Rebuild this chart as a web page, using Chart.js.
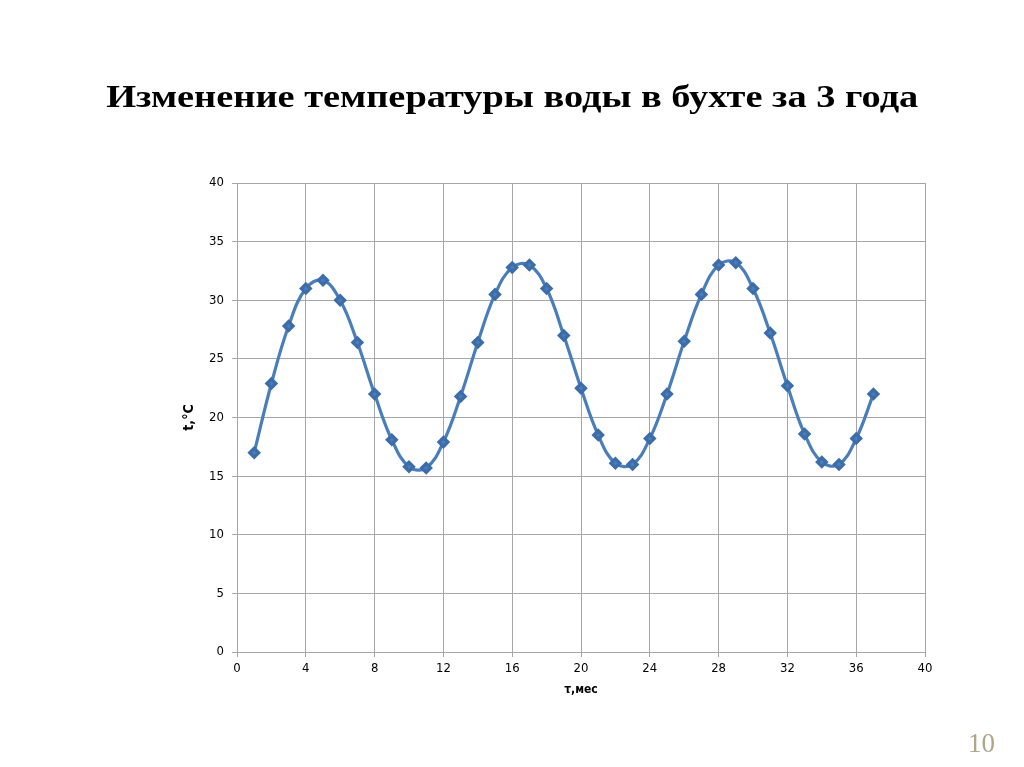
<!DOCTYPE html>
<html><head><meta charset="utf-8">
<script src="https://cdn.jsdelivr.net/npm/chart.js@4"></script>
<style>
html,body{margin:0;padding:0;background:#fff;width:1024px;height:767px;overflow:hidden;}
#title{position:absolute;left:0;width:1024px;top:78px;text-align:center;font-family:"Liberation Serif","Times New Roman",serif;font-weight:bold;font-size:32px;color:#000;transform:scaleX(1.2);transform-origin:511px 0;white-space:nowrap;}
#page{position:absolute;left:968px;top:728px;font-family:"Liberation Serif",serif;font-size:27px;color:#b0a48a;}
#wrap{position:absolute;left:0;top:0;width:1024px;height:767px;}
</style></head><body>
<div id="wrap"><canvas id="c"></canvas></div>
<div id="title">Изменение температуры воды в бухте за 3 года</div>
<div id="page">10</div>
<script>
const months = [1,2,3,4,5,6,7,8,9,10,11,12,13,14,15,16,17,18,19,20,21,22,23,24,25,26,27,28,29,30,31,32,33,34,35,36,37];
const temps = [17.0,22.9,27.8,31.0,31.7,30.0,26.4,22.0,18.1,15.8,15.7,17.9,21.8,26.4,30.5,32.8,33.0,31.0,27.0,22.5,18.5,16.1,16.0,18.2,22.0,26.5,30.5,33.0,33.2,31.0,27.2,22.7,18.6,16.2,16.0,18.2,22.0];
const xTitle = "τ,мес";
const yTitle = "t,°C";
const fam = "'Liberation Sans Narrow','DejaVu Sans Condensed','Liberation Sans',sans-serif";
const tickFont = {family:fam, size:13};
new Chart(document.getElementById('c'), {
  type:'scatter',
  data:{datasets:[{
    data: months.map((m,i)=>({x:m,y:temps[i]})),
    showLine:true, borderColor:'#4A7EBB', backgroundColor:'#4A7EBB',
    borderWidth:3.2, tension:0.4, pointStyle:'rectRot', pointRadius:4.5,
    pointBorderColor:'#3C6DA8', pointBackgroundColor:'#4A7EBB'
  }]},
  options:{
    responsive:true, maintainAspectRatio:false, animation:false,
    layout:{padding:{left:177,right:99,top:183,bottom:60}},
    plugins:{legend:{display:false},tooltip:{enabled:false}},
    scales:{
      x:{type:'linear',min:0,max:40,
        ticks:{stepSize:4,color:'#000',font:tickFont,padding:4},
        grid:{color:'#a6a6a6',lineWidth:1,tickLength:5,tickColor:'#a6a6a6'},
        border:{color:'#a6a6a6'},
        title:{display:true,text:xTitle,color:'#000',font:{family:fam,size:12,weight:'bold'},padding:{top:0,bottom:10}},
        afterFit(s){s.height=55;}
      },
      y:{min:0,max:40,
        ticks:{stepSize:5,color:'#000',font:tickFont,padding:8},
        grid:{color:'#a6a6a6',lineWidth:1,tickLength:5,tickColor:'#a6a6a6'},
        border:{color:'#a6a6a6'},
        title:{display:true,text:yTitle,color:'#000',font:{family:fam,size:14,weight:'bold'},padding:{top:4,bottom:0}},
        afterFit(s){s.width=60;}
      }
    }
  }
});
</script>
</body></html>
